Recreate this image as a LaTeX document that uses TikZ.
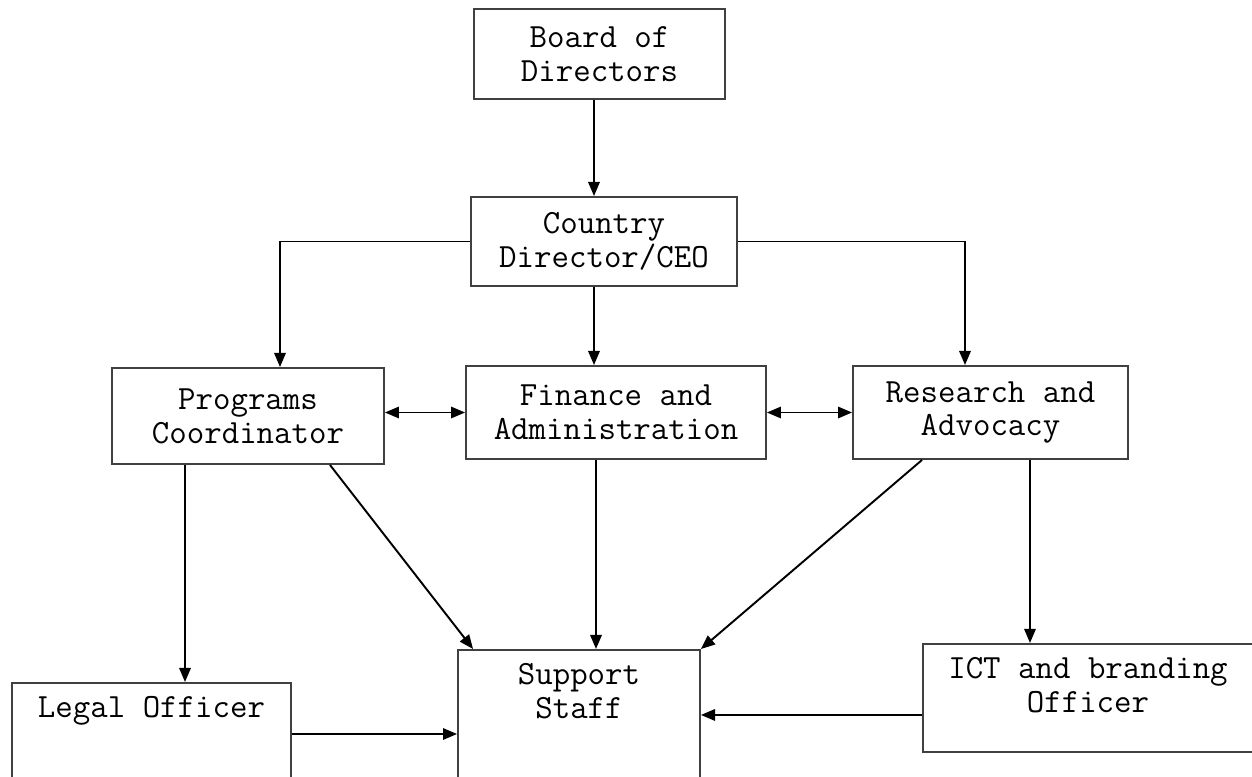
\documentclass[tikz,border=0pt]{standalone}
\usepackage{fontspec}
\usepackage{tikz}
\usetikzlibrary{arrows.meta}
\usetikzlibrary{positioning}
\tikzstyle{boite}=[rectangle,draw=black!75,line width=1.1pt,fill=white,align=center,
        font=\ttfamily\fontsize{19.3pt}{19.2pt}\selectfont]
\tikzstyle{haut}=[boite,anchor=north,inner ysep=0.25cm,text height=0.45cm]
\tikzstyle{fleche}=[->,>={Triangle[length=8pt,width=6.5pt]},line width=1.1pt]
\tikzstyle{double}=[fleche,<->]

\begin{document}
\begin{tikzpicture}[x=0.02cm,y=-0.02cm]
\useasboundingbox (0,0) rectangle (1252,777);
\clip (0,0) rectangle (1252,777);
\node[boite,minimum width=5.02cm,minimum height=1.8cm] (board) at (599.5,54) {Board of\\Directors};
\node[boite,minimum width=5.32cm,minimum height=1.78cm] (ceo) at (604,241.5) {Country\\Director/CEO};
\node[boite,minimum width=5.44cm,minimum height=1.92cm] (prog) at (248,416) {Programs\\Coordinator};
\node[boite,minimum width=6cm,minimum height=1.86cm] (fin) at (616,412.5) {Finance and\\Administration};
\node[boite,minimum width=5.5cm,minimum height=1.86cm] (res) at (990.5,412.5) {Research and\\Advocacy};
\node[haut,minimum width=5.58cm,text depth=2.5cm] (legal) at (151.5,682) {Legal Officer};
\node[haut,minimum width=4.84cm,text height=1.125cm,text depth=2.5cm] (sup) at (579,649) {Support\\Staff};
\node[haut,minimum width=6.6cm,text height=1.125cm,text depth=0.535cm] (ict) at (1088,643) {ICT and branding\\Officer};
%fleches
\draw[fleche] ([xshift=-0.11cm]board.south) -- ([xshift=-0.11cm]board.south |- ceo.north);
\draw[fleche] (ceo.west) -| ([xshift=0.64cm]prog.north);
\draw[fleche] (ceo.east) -| ([xshift=-0.51cm]res.north);
\draw[fleche] ([xshift=-0.2cm]ceo.south) -- ([xshift=-0.2cm]ceo.south |- fin.north);
\draw[double] (prog.east |- fin.west) -- (fin.west);
\draw[double] (fin.east) -- (res.west);
\draw[fleche] ([xshift=-1.26cm]prog.south) -- ([xshift=-1.26cm]prog.south |- legal.north);
\draw[fleche] ([xshift=1.64cm]prog.south) -- ([xshift=0.32cm]sup.north west);
\draw[fleche] ([xshift=-0.4cm]fin.south) -- ([xshift=-0.4cm]fin.south |- sup.north);
\draw[fleche] ([xshift=-1.37cm]res.south) -- (sup.north east);
\draw[fleche] ([xshift=0.79cm]res.south) -- ([xshift=0.79cm]res.south |- ict.north);
\draw[fleche] ([yshift=-0.34cm]ict.west) -- ([yshift=-0.34cm]ict.west -| sup.east);
\draw[fleche] ([yshift=-1.04cm]legal.north east) -- ([yshift=-1.04cm]legal.north east -| sup.west);
\end{tikzpicture}
\end{document}
